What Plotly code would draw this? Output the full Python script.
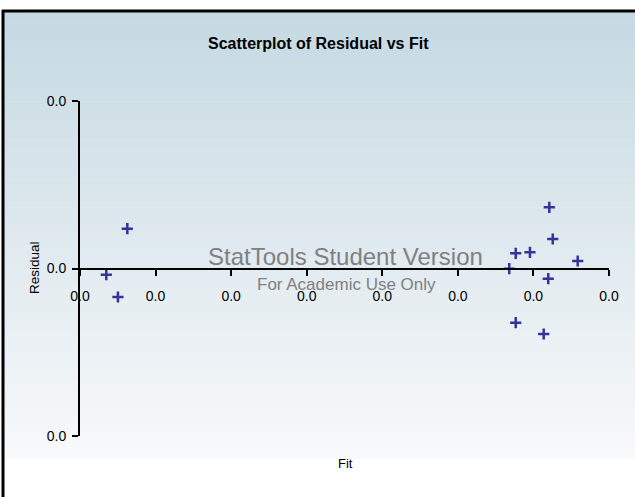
import plotly.graph_objects as go

# Regression diagnostics: fitted values and their residuals
fit = [0.00174, 0.00251, 0.00313, 0.02840, 0.02883, 0.02977, 0.03105,
       0.03128, 0.03098, 0.03068, 0.03293, 0.02883]
residual = [-0.00148, -0.0068, 0.0095, -0.00005, 0.00363, 0.00387, 0.0146,
            0.00704, -0.00244, -0.01564, 0.00179, -0.01294]

x_ticks = [0.0, 0.005, 0.010, 0.015, 0.020, 0.025, 0.030, 0.035]
y_ticks = [-0.04, 0.0, 0.04]
tick_fmt = "{:.1f}"

W, H = 635, 497
L, R, T, B = 80, 26, 101, 61
pw, ph = W - L - R, H - T - B


def px(x):
    return (x - L) / pw


def py(y):
    return (H - B - y) / ph


def label(v):
    return tick_fmt.format(abs(v))


FONT = "Liberation Sans, Arial"

fig = go.Figure()
fig.add_trace(go.Scatter(
    x=fit, y=residual, mode="markers",
    marker=dict(symbol="cross-thin", size=8,
                line=dict(color="#333399", width=2.5), color="#333399"),
    showlegend=False,
))

# chart-area gradient, light steel blue at the top fading to near white
shapes = []
top_px, bot_px = 12, 458
c0, c1 = (197, 217, 226), (248, 249, 251)
n = 80
for i in range(n):
    y0 = top_px + (bot_px - top_px) * i / n
    y1 = top_px + (bot_px - top_px) * (i + 1) / n + 0.6
    t = (i + 0.5) / n
    col = tuple(round(a + (b - a) * t) for a, b in zip(c0, c1))
    shapes.append(dict(type="rect", xref="paper", yref="paper", layer="below",
                       x0=px(3), x1=px(W + 2), y0=py(y1), y1=py(y0),
                       line=dict(width=0), fillcolor="rgb(%d,%d,%d)" % col))
# frame on the top and left edges
shapes.append(dict(type="line", xref="paper", yref="paper", layer="above",
                   x0=px(2), x1=px(W + 2), y0=py(11), y1=py(11),
                   line=dict(color="black", width=3)))
shapes.append(dict(type="line", xref="paper", yref="paper", layer="above",
                   x0=px(3), x1=px(3), y0=py(10), y1=py(H + 2),
                   line=dict(color="black", width=3)))

annotations = [
    dict(text="<b>Scatterplot of Residual vs Fit</b>", x=px(318), y=py(44),
         font=dict(family=FONT, size=16, color="black")),
    dict(text="Residual", x=px(34), y=py(268), textangle=-90,
         font=dict(family=FONT, size=13.5, color="black")),
    dict(text="Fit", x=px(345), y=py(463),
         font=dict(family=FONT, size=13, color="black")),
    dict(text="StatTools Student Version", x=px(345), y=py(256),
         font=dict(family=FONT, size=24, color="#808080")),
    dict(text="For Academic Use Only", x=px(346), y=py(284),
         font=dict(family=FONT, size=17, color="#808080")),
]
for a in annotations:
    a.update(xref="paper", yref="paper", showarrow=False,
             xanchor="center", yanchor="middle")

fig.update_layout(
    width=W, height=H,
    margin=dict(l=L, r=R, t=T, b=B, pad=0),
    paper_bgcolor="white", plot_bgcolor="rgba(0,0,0,0)",
    shapes=shapes, annotations=annotations,
    xaxis=dict(range=[x_ticks[0], x_ticks[-1]], tickvals=x_ticks,
               ticktext=[label(v) for v in x_ticks],
               anchor="free", position=0.5, showgrid=False, zeroline=False,
               showline=True, linecolor="black", linewidth=2,
               ticks="outside", ticklen=6, tickwidth=2, tickcolor="black",
               ticklabelstandoff=9,
               tickfont=dict(family=FONT, size=14, color="black")),
    yaxis=dict(range=[y_ticks[0], y_ticks[-1]], tickvals=y_ticks,
               ticktext=[label(v) for v in y_ticks],
               showgrid=False, zeroline=False,
               showline=True, linecolor="black", linewidth=2,
               ticks="outside", ticklen=6, tickwidth=2, tickcolor="black",
               ticklabelstandoff=3,
               tickfont=dict(family=FONT, size=14, color="black")),
)

fig.write_html("out.html")
